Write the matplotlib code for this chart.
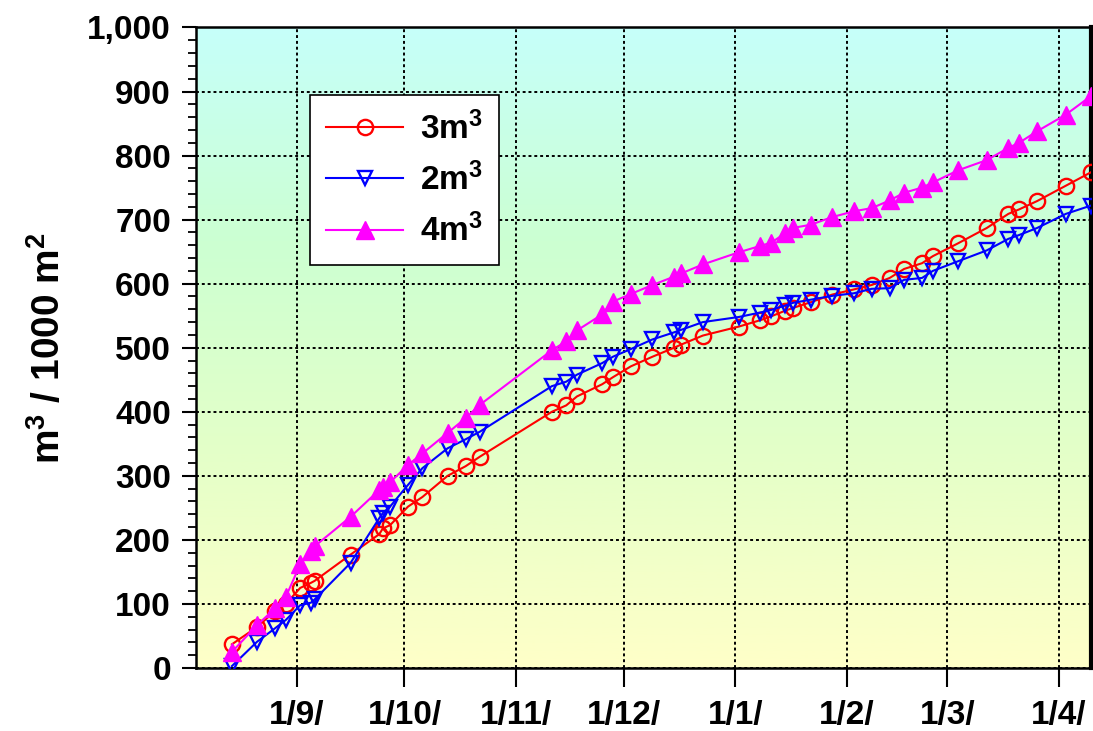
import datetime as dt
import numpy as np
import matplotlib
matplotlib.use("Agg")
import matplotlib.pyplot as plt
import matplotlib.dates as mdates
from matplotlib.colors import LinearSegmentedColormap
from matplotlib.ticker import MultipleLocator, FuncFormatter

plt.rcParams['font.family'] = ['Liberation Sans', 'DejaVu Sans']
plt.rcParams['font.weight'] = 'bold'
plt.rcParams['mathtext.default'] = 'bf'
plt.rcParams['mathtext.fontset'] = 'custom'
plt.rcParams['mathtext.bf'] = 'Liberation Sans:bold'
plt.rcParams['mathtext.rm'] = 'Liberation Sans:bold'

# measurement dates (day, month); Aug-Dec in first year, Jan-Apr in next
dates_dm = [(14, 8), (21, 8), (26, 8), (29, 8), (2, 9), (5, 9), (6, 9), (16, 9),
            (24, 9), (25, 9), (27, 9), (2, 10), (6, 10), (13, 10), (18, 10), (22, 10),
            (11, 11), (15, 11), (18, 11), (25, 11), (28, 11), (3, 12), (9, 12), (15, 12),
            (17, 12), (23, 12), (2, 1), (8, 1), (11, 1), (15, 1), (17, 1), (22, 1),
            (28, 1), (3, 2), (8, 2), (13, 2), (17, 2), (22, 2), (25, 2), (4, 3),
            (12, 3), (18, 3), (21, 3), (26, 3), (3, 4), (10, 4)]

vals_3m = [37, 64, 89, 100, 125, 133, 136, 177,
           209, 218, 223, 252, 267, 300, 315, 330,
           400, 410, 424, 443, 454, 471, 486, 500,
           505, 519, 533, 543, 549, 558, 562, 571,
           583, 591, 598, 609, 623, 632, 643, 663,
           687, 709, 716, 729, 753, 774]

vals_2m = [3, 41, 62, 75, 98, 102, 107, 164,
           234, 242, 252, 286, 312, 343, 357, 369,
           440, 447, 458, 476, 486, 498, 513, 524,
           528, 540, 548, 555, 559, 566, 570, 575,
           581, 585, 592, 593, 606, 609, 620, 635,
           652, 670, 676, 687, 709, 722]

vals_4m = [25, 67, 93, 111, 162, 182, 190, 236,
           278, 283, 290, 317, 335, 367, 390, 411,
           496, 510, 527, 552, 572, 584, 598, 611,
           616, 630, 649, 659, 664, 679, 687, 692,
           704, 713, 718, 730, 742, 750, 758, 777,
           793, 812, 820, 838, 864, 893]

labels = ['3m$^3$', '2m$^3$', '4m$^3$']

dates = [dt.date(2014 if m >= 8 else 2015, m, d) for d, m in dates_dm]

fig = plt.figure(figsize=(10.93, 7.31), dpi=100)
ax = fig.add_axes([0.1793, 0.0862, 0.8189, 0.8762])

# gradient background
cmap = LinearSegmentedColormap.from_list(
    'bg', ['#FFFFC8', '#E4FFC8', '#CCFFD2', '#C6FFFA'])
grad = np.linspace(0, 1, 256).reshape(-1, 1)
ax.imshow(grad, aspect='auto', cmap=cmap, origin='lower',
          extent=[0, 1, 0, 1], transform=ax.transAxes, zorder=0)

ax.plot(dates, vals_3m, color='#FF0000', lw=1.5, marker='o', ms=11,
        mfc='none', mec='#FF0000', mew=1.7, label=labels[0], zorder=3)
ax.plot(dates, vals_2m, color='#0000FF', lw=1.5, marker='v', ms=10.5,
        mfc='none', mec='#0000FF', mew=1.7, label=labels[1], zorder=3)
ax.plot(dates, vals_4m, color='#FF00FF', lw=1.5, marker='^', ms=13,
        mfc='#FF00FF', mec='#FF00FF', label=labels[2], zorder=4)

ax.set_xlim(dt.date(2014, 8, 4), dt.date(2015, 4, 10))
ax.set_ylim(0, 1000)

ax.xaxis.set_major_locator(mdates.MonthLocator(bymonthday=1))
ax.xaxis.set_major_formatter(FuncFormatter(
    lambda x, pos: '%d/%d/' % (mdates.num2date(x).day, mdates.num2date(x).month)))
ax.yaxis.set_major_locator(MultipleLocator(100))
ax.yaxis.set_minor_locator(MultipleLocator(20))
ax.yaxis.set_major_formatter(FuncFormatter(lambda v, pos: '{:,}'.format(int(v))))

ax.grid(True, which='major', color='black', linestyle=(0, (1.5, 1.5)), lw=1.4, zorder=1)
ax.set_axisbelow(False)

ax.tick_params(axis='y', which='major', direction='out', length=10, width=1.5,
               labelsize=24, pad=8)
ax.tick_params(axis='y', which='minor', direction='out', length=6, width=1.3)
ax.tick_params(axis='x', which='major', direction='out', length=14, width=1.5,
               labelsize=24, pad=9)
for lbl in ax.get_xticklabels() + ax.get_yticklabels():
    lbl.set_fontweight('bold')

for side in ['left', 'bottom', 'top']:
    ax.spines[side].set_linewidth(1.8)
ax.spines['right'].set_linewidth(3)

ax.set_ylabel('m$^3$ / 1000 m$^2$', fontsize=28, fontweight='bold', labelpad=14)

leg = ax.legend(loc='upper left', bbox_to_anchor=(0.127, 0.895), fontsize=24,
                handlelength=2.3, borderpad=0.5, labelspacing=0.5,
                fancybox=False, framealpha=1, edgecolor='black', handletextpad=0.5,
                borderaxespad=0)
leg.get_frame().set_linewidth(1.2)
for t in leg.get_texts():
    t.set_fontweight('bold')

fig.savefig('out.png', dpi=100)
